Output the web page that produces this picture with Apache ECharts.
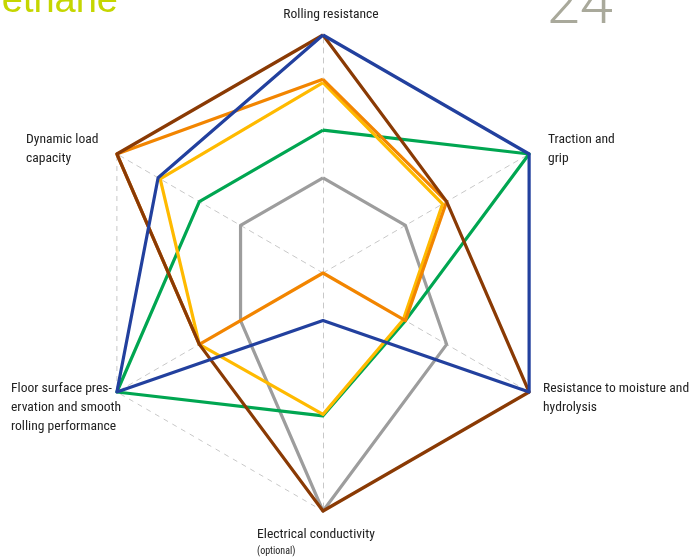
<!DOCTYPE html>
<html>
<head>
<meta charset="utf-8">
<script src="https://cdn.jsdelivr.net/npm/echarts@6/dist/echarts.min.js"></script>
<style>
html,body{margin:0;padding:0;background:#fff;}
#chart{width:691px;height:558px;}
</style>
</head>
<body>
<div id="chart"></div>
<script>
// Indicators (counter-clockwise from top, ECharts radar order)
const indicatorNames = [
  "Rolling resistance",
  "Dynamic load capacity",
  "Floor surface preservation and smooth rolling performance",
  "Electrical conductivity (optional)",
  "Resistance to moisture and hydrolysis",
  "Traction and grip"
];
const maxValue = 5;

// Series values in indicator order above
const seriesGray   = [2.0, 2.0, 2.0, 5.0, 3.0, 2.0];
const seriesGreen  = [3.0, 3.0, 5.0, 3.0, 2.0, 5.0];
const seriesYellow = [4.0, 3.95, 3.0, 2.97, 1.95, 2.9];
const seriesOrange = [4.07, 5.0, 3.0, 0.0, 2.0, 3.0];
const seriesBrown  = [5.0, 5.0, 3.0, 5.0, 5.0, 3.0];
const seriesBlue   = [5.0, 4.0, 5.0, 1.0, 5.0, 5.0];

const seriesColors = {
  gray: "#9d9d9d",
  green: "#00a651",
  yellow: "#ffba00",
  orange: "#f28500",
  brown: "#8a3a04",
  blue: "#22409e"
};

const chart = echarts.init(document.getElementById('chart'), null, {renderer: 'canvas'});

const labelFont = '13.6px "Liberation Sans Narrow", "Arial Narrow", "Roboto Condensed", "Liberation Sans", sans-serif';
const labelColor = '#222';

function mkSeries(name, data, color) {
  return {
    name: name,
    value: data,
    lineStyle: {color: color, width: 3.2},
    itemStyle: {color: color},
    symbol: 'none',
    areaStyle: null
  };
}

const option = {
  animation: false,
  radar: {
    center: [323, 273],
    radius: 238,
    startAngle: 90,
    splitNumber: 1,
    shape: 'polygon',
    indicator: indicatorNames.map(n => ({name: '', max: maxValue, min: 0})),
    axisName: {show: false},
    axisLine: {lineStyle: {color: '#c8c8c8', type: [5, 5], width: 1}},
    splitLine: {lineStyle: {color: '#c8c8c8', type: [5, 5], width: 1}},
    splitArea: {show: false},
    axisTick: {show: false},
    axisLabel: {show: false}
  },
  series: [{
    type: 'radar',
    symbol: 'none',
    data: [
      mkSeries('gray', seriesGray, seriesColors.gray),
      mkSeries('green', seriesGreen, seriesColors.green),
      mkSeries('yellow', seriesYellow, seriesColors.yellow),
      mkSeries('orange', seriesOrange, seriesColors.orange),
      mkSeries('brown', seriesBrown, seriesColors.brown),
      mkSeries('blue', seriesBlue, seriesColors.blue)
    ]
  }],
  graphic: [
    {type: 'text', style: {text: 'Polyurethane', x: 118, y: 21, textAlign: 'right', textVerticalAlign: 'bottom',
      font: '38px "Liberation Sans", Arial, sans-serif', fill: '#c5d600'}},
    {type: 'text', style: {text: '24', x: 613, y: 38, textAlign: 'right', textVerticalAlign: 'bottom',
      font: '300 60px "Roboto", "Liberation Sans", sans-serif', fill: '#a9a99b'}},
    {type: 'text', style: {text: 'Rolling resistance', x: 331, y: 5, textAlign: 'center', textVerticalAlign: 'top',
      font: labelFont, fill: labelColor, lineHeight: 19}},
    {type: 'text', style: {text: 'Traction and\ngrip', x: 548, y: 130, textAlign: 'left', textVerticalAlign: 'top',
      font: labelFont, fill: labelColor, lineHeight: 19}},
    {type: 'text', style: {text: 'Resistance to moisture and\nhydrolysis', x: 543, y: 379, textAlign: 'left', textVerticalAlign: 'top',
      font: labelFont, fill: labelColor, lineHeight: 19}},
    {type: 'text', style: {text: 'Electrical conductivity', x: 257, y: 525, textAlign: 'left', textVerticalAlign: 'top',
      font: labelFont, fill: labelColor, lineHeight: 19}},
    {type: 'text', style: {text: '(optional)', x: 257, y: 546, textAlign: 'left', textVerticalAlign: 'top',
      font: '10px "Liberation Sans Narrow", "Arial Narrow", "Roboto Condensed", "Liberation Sans", sans-serif', fill: labelColor}},
    {type: 'text', style: {text: 'Floor surface pres-\nervation and smooth\nrolling performance', x: 11, y: 379, textAlign: 'left', textVerticalAlign: 'top',
      font: labelFont, fill: labelColor, lineHeight: 19}},
    {type: 'text', style: {text: 'Dynamic load\ncapacity', x: 26, y: 130, textAlign: 'left', textVerticalAlign: 'top',
      font: labelFont, fill: labelColor, lineHeight: 19}}
  ]
};
chart.setOption(option);
</script>
</body>
</html>
